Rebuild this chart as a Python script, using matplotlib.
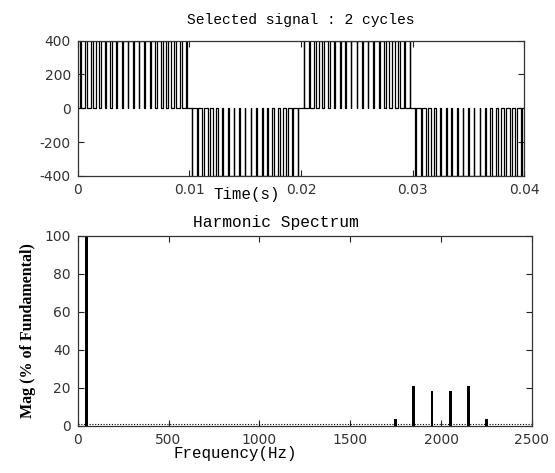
import numpy as np
import matplotlib
matplotlib.use('Agg')
import matplotlib.pyplot as plt

plt.rcParams['axes.unicode_minus'] = False

# PWM output: duty of each carrier slot over one half cycle
duty = [0.07, 0.22, 0.36, 0.50, 0.62, 0.72, 0.81, 0.88, 0.92, 0.95,
        0.95, 0.92, 0.88, 0.81, 0.72, 0.62, 0.50, 0.36, 0.22, 0.07]
half_period = 0.01
v_dc = 400
half_sign = [1, -1, 1, -1]          # 2 cycles = 4 half cycles

# Harmonic spectrum
freqs = [50, 1750, 1850, 1950, 2050, 2150, 2250]
mags = [100, 3.5, 21, 18.5, 18.5, 21, 3.5]

time_ticks = [0, 0.01, 0.02, 0.03, 0.04]
time_labels = ['0', '0.01', '0.02', '0.03', '0.04']
volt_ticks = [-400, -200, 0, 200, 400]
freq_ticks = [0, 500, 1000, 1500, 2000, 2500]
mag_ticks = [0, 20, 40, 60, 80, 100]

# build the step trace from the pulse list
slot = half_period / len(duty)
t, v = [0.0], [0.0]
for h, s in enumerate(half_sign):
    t0 = h * half_period
    for k, d in enumerate(duty):
        c = t0 + (k + 0.5) * slot
        a, b = c - d * slot / 2, c + d * slot / 2
        t += [a, a, b, b]
        v += [0, s * v_dc, s * v_dc, 0]
t.append(len(half_sign) * half_period)
v.append(0.0)

mono = 'Liberation Mono'
tick_font = {'family': 'DejaVu Sans', 'size': 10}

fig = plt.figure(figsize=(5.55, 4.73), dpi=100)
ax1 = fig.add_axes([0.140, 0.628, 0.805, 0.286])
ax2 = fig.add_axes([0.140, 0.100, 0.8185, 0.4017])

ax1.plot(t, v, color='k', lw=0.9)
ax1.set_xlim(0, 0.04)
ax1.set_ylim(-400, 400)
ax1.set_xticks(time_ticks)
ax1.set_xticklabels(time_labels)
ax1.set_yticks(volt_ticks)
ax1.text(0.5, 1.10, 'Selected signal : 2 cycles', transform=ax1.transAxes,
         ha='center', va='bottom', family=mono, fontsize=10.5)
ax1.text(0.379, -0.081, 'Time(s)', transform=ax1.transAxes,
         ha='center', va='top', family=mono, fontsize=11.3)

ax2.bar(freqs, mags, width=16, color='k')
ax2.axhline(0.7, color='k', lw=0.8, ls=(0, (1, 1.5)))
ax2.set_xlim(0, 2500)
ax2.set_ylim(0, 100)
ax2.set_xticks(freq_ticks)
ax2.set_yticks(mag_ticks)
ax2.text(0.4365, 1.03, 'Harmonic Spectrum', transform=ax2.transAxes,
         ha='center', va='bottom', family=mono, fontsize=11.7)
ax2.text(0.346, -0.107, 'Frequency(Hz)', transform=ax2.transAxes,
         ha='center', va='top', family=mono, fontsize=11.4)
ax2.set_ylabel('Mag (% of Fundamental)', family='Liberation Serif',
               fontweight='bold', fontsize=11.5, labelpad=6)

for ax in (ax1, ax2):
    ax.tick_params(direction='in', top=True, right=True, length=4,
                   width=0.8, pad=5, colors='#222')
    for lab in ax.get_xticklabels() + ax.get_yticklabels():
        lab.set_fontfamily(tick_font['family'])
        lab.set_fontsize(tick_font['size'])
        lab.set_color('#333')
    for sp in ax.spines.values():
        sp.set_color('#333')
        sp.set_linewidth(0.9)

fig.savefig('out.png', dpi=100)
